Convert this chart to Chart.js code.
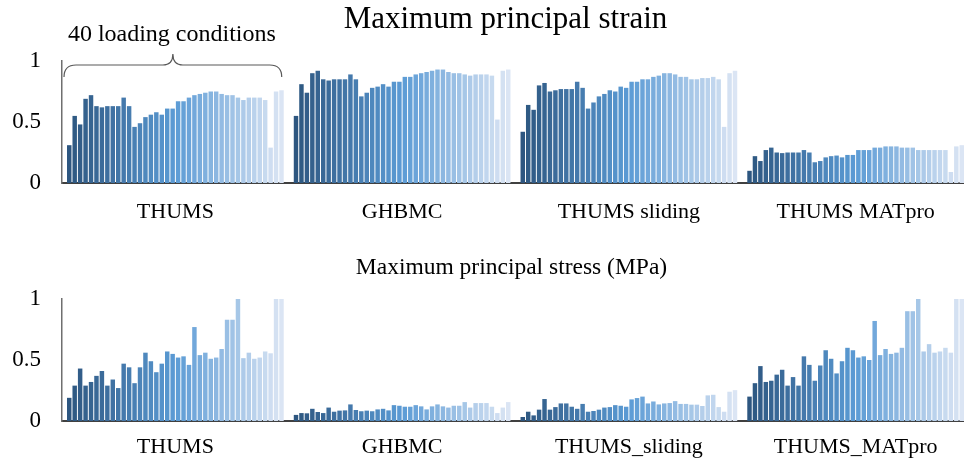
<!DOCTYPE html>
<html>
<head>
<meta charset="utf-8">
<script src="https://cdn.jsdelivr.net/npm/chart.js@4.4.1/dist/chart.umd.min.js"></script>
<style>
  html, body { margin: 0; padding: 0; background: #fff; overflow: hidden; width: 964px; height: 462px; }
  .box { position: absolute; left: 0; width: 972px; }
  #top { top: 0; height: 232px; }
  #bot { top: 232px; height: 230px; }
</style>
</head>
<body>
<div class="box" id="top"><canvas id="strainChart"></canvas></div>
<div class="box" id="bot"><canvas id="stressChart"></canvas></div>
<script>
// categories
const strainModels = ['THUMS', 'GHBMC', 'THUMS sliding', 'THUMS MATpro'];
const stressModels = ['THUMS', 'GHBMC', 'THUMS_sliding', 'THUMS_MATpro'];
const yTicks = [0, 0.5, 1];

// maximum principal strain, 40 loading conditions per model
const strainThums   = [0.31,0.55,0.48,0.69,0.72,0.63,0.62,0.63,0.63,0.63,0.70,0.63,0.46,0.49,0.54,0.56,0.58,0.56,0.61,0.61,0.67,0.67,0.70,0.72,0.73,0.74,0.75,0.75,0.73,0.72,0.72,0.70,0.68,0.70,0.70,0.70,0.68,0.29,0.75,0.76];
const strainGhbmc   = [0.55,0.81,0.74,0.90,0.92,0.85,0.84,0.85,0.85,0.85,0.89,0.85,0.71,0.74,0.78,0.79,0.81,0.79,0.83,0.83,0.87,0.87,0.89,0.90,0.91,0.92,0.93,0.93,0.91,0.90,0.90,0.89,0.88,0.89,0.89,0.89,0.88,0.52,0.92,0.93];
const strainSliding = [0.42,0.64,0.60,0.80,0.82,0.75,0.76,0.77,0.77,0.77,0.83,0.78,0.61,0.66,0.71,0.73,0.76,0.75,0.79,0.78,0.83,0.83,0.85,0.85,0.87,0.88,0.90,0.90,0.89,0.87,0.87,0.85,0.85,0.86,0.86,0.87,0.85,0.46,0.90,0.92];
const strainMatpro  = [0.10,0.22,0.18,0.27,0.29,0.25,0.245,0.25,0.25,0.25,0.27,0.25,0.17,0.18,0.21,0.22,0.225,0.21,0.23,0.23,0.27,0.27,0.27,0.29,0.29,0.30,0.30,0.30,0.29,0.29,0.29,0.27,0.27,0.27,0.27,0.27,0.27,0.09,0.30,0.31];

// maximum principal stress (MPa), 40 loading conditions per model
const stressThums   = [0.19,0.29,0.43,0.29,0.32,0.37,0.41,0.29,0.34,0.27,0.47,0.44,0.31,0.44,0.56,0.49,0.40,0.47,0.57,0.55,0.52,0.53,0.46,0.77,0.54,0.56,0.51,0.52,0.59,0.83,0.83,1.0,0.515,0.56,0.51,0.52,0.57,0.555,1.0,1.0];
const stressGhbmc   = [0.05,0.065,0.063,0.10,0.074,0.065,0.11,0.076,0.085,0.087,0.136,0.09,0.08,0.085,0.08,0.095,0.10,0.087,0.13,0.125,0.117,0.117,0.13,0.12,0.095,0.12,0.136,0.12,0.11,0.125,0.125,0.155,0.11,0.147,0.147,0.147,0.117,0.065,0.11,0.155];
const stressSliding = [0.033,0.076,0.046,0.093,0.18,0.093,0.114,0.144,0.144,0.117,0.10,0.14,0.076,0.082,0.093,0.11,0.114,0.13,0.125,0.117,0.177,0.188,0.20,0.144,0.16,0.136,0.144,0.147,0.163,0.14,0.14,0.134,0.134,0.123,0.21,0.215,0.114,0.076,0.24,0.253];
const stressMatpro  = [0.20,0.31,0.45,0.32,0.33,0.38,0.42,0.29,0.36,0.29,0.53,0.46,0.33,0.455,0.58,0.51,0.39,0.49,0.60,0.58,0.52,0.53,0.50,0.82,0.54,0.59,0.55,0.56,0.60,0.90,0.90,1.0,0.57,0.63,0.56,0.57,0.60,0.56,1.0,1.0];

const FONT = '"Liberation Serif", "Times New Roman", serif';

// blue shades, dark -> light, one per loading condition
function shade(i, n) {
  const stops = [[45, 86, 128], [91, 155, 213], [219, 229, 244]];
  const t = i / (n - 1) * 2;
  const k = Math.min(1, Math.floor(t));
  const f = t - k;
  const c = stops[k].map((v, j) => Math.round(v + (stops[k + 1][j] - v) * f));
  return `rgb(${c[0]},${c[1]},${c[2]})`;
}

function buildDatasets(series) {
  const n = series[0].length;
  const out = [];
  for (let i = 0; i < n; i++) {
    out.push({
      label: 'Condition ' + (i + 1),
      data: series.map(s => s[i]),
      backgroundColor: shade(i, n),
      borderWidth: 0,
      barPercentage: 0.82,
      categoryPercentage: 0.96,
    });
  }
  return out;
}

// chart heading, placed relative to the plot centre like the original
const headingPlugin = {
  id: 'heading',
  afterDraw(chart, args, opts) {
    const ctx = chart.ctx;
    const a = chart.chartArea;
    ctx.save();
    ctx.font = opts.size + 'px ' + FONT;
    ctx.fillStyle = '#000';
    ctx.textAlign = 'center';
    ctx.textBaseline = 'middle';
    ctx.fillText(opts.text, (a.left + a.right) / 2 + opts.dx, opts.y);
    ctx.restore();
  }
};

// curly brace over the first group
const bracePlugin = {
  id: 'brace',
  afterDatasetsDraw(chart) {
    const first = chart.getDatasetMeta(0).data[0];
    const last = chart.getDatasetMeta(chart.data.datasets.length - 1).data[0];
    const x0 = first.x - first.width / 2 - 3;
    const x1 = last.x + last.width / 2 - 2;
    const xm = (x0 + x1) / 2;
    const top = chart.chartArea.top;
    const yLine = top + 4, yTip = top - 7, yEnd = top + 16;
    const ctx = chart.ctx;
    ctx.save();
    ctx.strokeStyle = '#595959';
    ctx.lineWidth = 1.2;
    ctx.beginPath();
    ctx.moveTo(x0, yEnd);
    ctx.quadraticCurveTo(x0, yLine, x0 + 12, yLine);
    ctx.lineTo(xm - 10, yLine);
    ctx.quadraticCurveTo(xm, yLine, xm, yTip);
    ctx.quadraticCurveTo(xm, yLine, xm + 10, yLine);
    ctx.lineTo(x1 - 12, yLine);
    ctx.quadraticCurveTo(x1, yLine, x1, yEnd);
    ctx.stroke();
    ctx.font = '24px ' + FONT;
    ctx.fillStyle = '#000';
    ctx.textAlign = 'center';
    ctx.textBaseline = 'middle';
    ctx.fillText('40 loading conditions', xm - 1, yTip - 19);
    ctx.restore();
  }
};

function makeChart(id, labels, series, heading, padTop, axisHeight, tickPad, plugins) {
  return new Chart(document.getElementById(id), {
    type: 'bar',
    data: { labels: labels, datasets: buildDatasets(series) },
    plugins: [headingPlugin].concat(plugins),
    options: {
      responsive: true,
      maintainAspectRatio: false,
      animation: false,
      layout: { padding: { left: 0, right: 3, top: padTop, bottom: 0 } },
      plugins: {
        legend: { display: false },
        tooltip: { enabled: false },
        title: { display: false },
        heading: heading,
      },
      scales: {
        x: {
          grid: { display: false, drawTicks: false },
          border: { display: true, color: '#404040', width: 2 },
          ticks: { color: '#000', font: { family: FONT, size: 22 }, padding: tickPad, maxRotation: 0 },
          afterFit: s => { s.height = axisHeight; },
        },
        y: {
          min: 0,
          max: 1,
          grid: { display: false, drawTicks: false },
          border: { display: true, color: '#6f6f6f', width: 1.5 },
          ticks: { color: '#000', font: { family: FONT, size: 23 }, padding: 21, callback: v => String(v) },
          afterBuildTicks: s => { s.ticks = yTicks.map(v => ({ value: v })); },
          afterFit: s => { s.width = 62; },
        },
      },
    },
  });
}

makeChart('strainChart', strainModels,
  [strainThums, strainGhbmc, strainSliding, strainMatpro],
  { text: 'Maximum principal strain', size: 31, y: 20, dx: -10 }, 61, 49, 16, [bracePlugin]);

makeChart('stressChart', stressModels,
  [stressThums, stressGhbmc, stressSliding, stressMatpro],
  { text: 'Maximum principal stress (MPa)', size: 23.5, y: 36, dx: -4 }, 67, 41, 13, []);
</script>
</body>
</html>
